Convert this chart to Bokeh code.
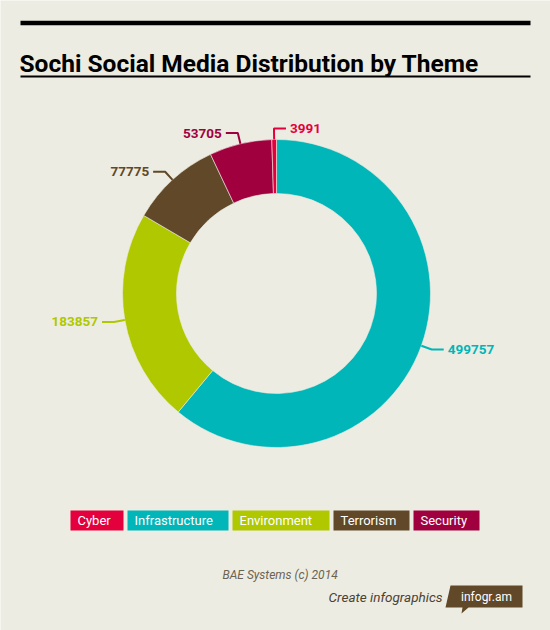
import numpy as np
from bokeh.plotting import figure
from bokeh.models import ColumnDataSource, Range1d, Label
from bokeh.core.properties import value
from bokeh.embed import file_html
from bokeh.resources import INLINE

# data, in clockwise order from 12 o'clock
themes = ["Infrastructure", "Environment", "Terrorism", "Security", "Cyber"]
counts = [499757, 183857, 77775, 53705, 3991]
colors = ["#00b6b8", "#afc800", "#604828", "#a1003f", "#e4003d"]

legend_order = ["Cyber", "Infrastructure", "Environment", "Terrorism", "Security"]
legend_w = [53, 101, 97, 76, 66]

title = "Sochi Social Media Distribution by Theme"
credit = "BAE Systems (c) 2014"

BG = "#edece2"
FONT = "Roboto"


def Y(py):
    # picture pixel row -> data y
    return 630 - py


p = figure(width=550, height=630, x_range=Range1d(0, 550), y_range=Range1d(0, 630),
           x_axis_type=None, y_axis_type=None, toolbar_location=None,
           output_backend="svg", min_border=0, outline_line_color=None,
           background_fill_color=BG, border_fill_color=BG)
p.grid.visible = False

# header rules + title
p.line([20, 530], [Y(22.5), Y(22.5)], line_color="black", line_width=4.5)
p.line([20, 530], [Y(76), Y(76)], line_color="black", line_width=2)
p.add_layout(Label(x=19, y=Y(63), text=title, text_font=FONT, text_font_style="bold",
                   text_font_size="24.5px", text_color="black", text_baseline="alphabetic"))

# donut
cx, cy = 276, Y(293)
r_in, r_out = 100, 154
vals = np.array(counts, dtype=float)
frac = vals / vals.sum()
cum = np.cumsum(frac)
start = np.pi / 2 - 2 * np.pi * (cum - frac)
end = np.pi / 2 - 2 * np.pi * cum
src = ColumnDataSource(dict(theme=themes, count=counts, color=colors, start=start, end=end))
p.annular_wedge(x=cx, y=cy, inner_radius=r_in, outer_radius=r_out, start_angle="start",
                end_angle="end", direction="clock", color="color", line_color=BG,
                line_width=0.6, source=src)

# leader lines and value labels
mid = (start + end) / 2
xs, ys = [], []
lab = {"left": dict(x=[], y=[], t=[], c=[]), "right": dict(x=[], y=[], t=[], c=[])}
for a, n, c in zip(mid, counts, colors):
    x0, y0 = cx + r_out * np.cos(a), cy + r_out * np.sin(a)
    x1, y1 = cx + (r_out + 11) * np.cos(a), cy + (r_out + 11) * np.sin(a)
    side = "right" if np.cos(a) > -0.05 else "left"
    d = 1 if side == "right" else -1
    x2 = x1 + 12 * d
    xs.append([x0, x1, x2])
    ys.append([y0, y1, y1])
    g = lab["left" if side == "right" else "right"]
    g["x"].append(x2 + 4 * d)
    g["y"].append(y1)
    g["t"].append(str(n))
    g["c"].append(c)
p.multi_line(xs, ys, line_color=colors, line_width=2)
for align, g in lab.items():
    if g["t"]:
        p.text(x=g["x"], y=g["y"], text=g["t"], text_color=g["c"], text_align=align,
               text_baseline="middle", text_font=value(FONT), text_font_style="bold",
               text_font_size="13.5px")

# legend boxes
col_of = dict(zip(themes, colors))
left, lx = [], 70
for w in legend_w:
    left.append(lx)
    lx += w + 4
right = [l + w for l, w in zip(left, legend_w)]
p.quad(left=left, right=right, top=Y(510), bottom=Y(530),
       color=[col_of[t] for t in legend_order], line_color=None)
p.text(x=[l + 7 for l in left], y=Y(520), text=legend_order, text_color="white",
       text_baseline="middle", text_font=value(FONT), text_font_size="13px")

# footer
p.add_layout(Label(x=222, y=Y(574), text=credit, text_font=FONT, text_font_style="italic",
                   text_font_size="12px", text_color="#6a6252", text_baseline="middle"))
p.add_layout(Label(x=442, y=Y(596), text="Create infographics", text_font=FONT,
                   text_font_style="italic", text_font_size="13.5px", text_color="#4b4233",
                   text_align="right", text_baseline="middle"))
bx = [450, 522, 522, 468, 461, 462, 445]
by = [Y(v) for v in [585, 585, 607, 607, 613, 607, 607]]
p.patch(bx, by, color="#604828", line_color=None)
p.add_layout(Label(x=486, y=Y(596), text="infogr.am", text_font=FONT, text_font_size="12px",
                   text_color="white", text_align="center", text_baseline="middle"))

open("out.html", "w").write(file_html(p, INLINE))
